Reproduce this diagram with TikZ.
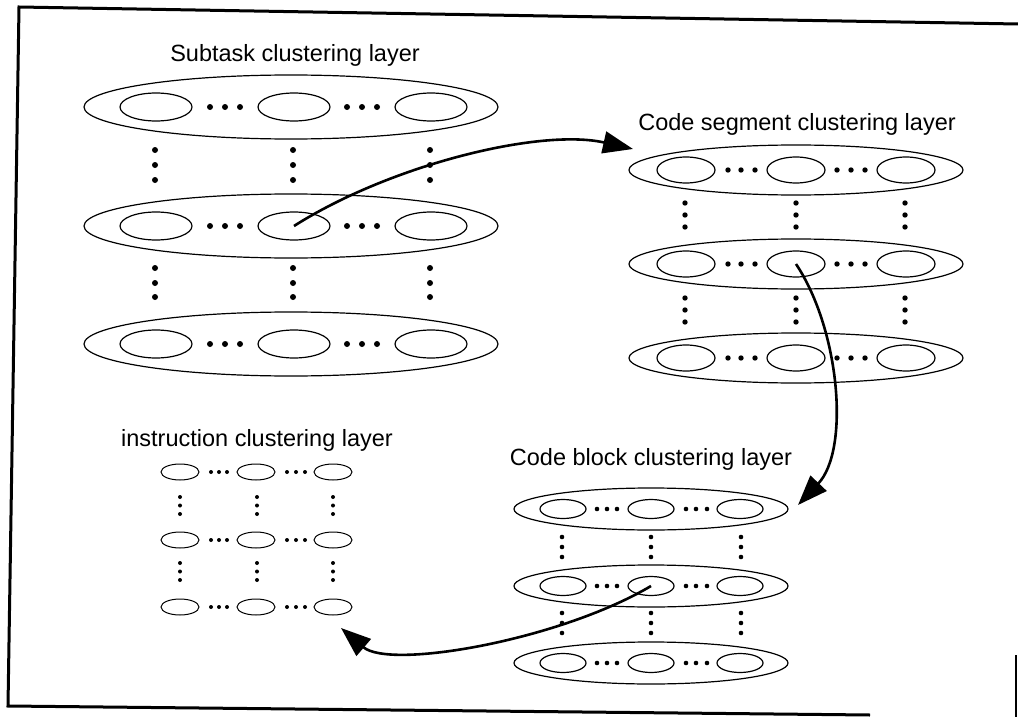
\documentclass[tikz,border=0pt]{standalone}
\usepackage{fontspec}
\setmainfont{Liberation Sans}
\usetikzlibrary{shapes.geometric,arrows.meta}
\begin{document}
\begin{tikzpicture}[x=1pt,y=-1pt,
  ell/.style={draw, ellipse, inner sep=0pt, line width=1.2pt},
  lbl/.style={font=\fontsize{23.5}{28}\selectfont, anchor=base, inner sep=0pt},
  flow/.style={line width=2.6pt, -{Triangle[length=30pt,width=22pt]}},
  framel/.style={line width=3pt}]
\useasboundingbox (0,0) rectangle (1018,717);

% frame (scanned, slightly rotated)
\coordinate (f1) at (19,7);
\coordinate (f2) at (1018,24);
\coordinate (f3) at (8,706);
\coordinate (f4) at (870,715);
\coordinate (f5) at (1016,655);
\coordinate (f6) at (1016,717);
\draw[framel] (f2) -- (f1) -- (f3) -- (f4);
\draw[line width=2pt] (f5) -- (f6);

% ---------- Subtask clustering layer ----------
\node[lbl] (Lsub) at (295,62) {Subtask clustering layer};
\foreach \r/\y in {1/107,2/226,3/344} {
  \node[ell, minimum width=414pt, minimum height=64pt] (S\r) at (291,\y) {};
  \foreach \c/\x in {1/156,2/294,3/431}
    \node[ell, minimum width=72pt, minimum height=28pt] (S\r\c) at (\x,\y) {};
  \foreach \x in {210,225,240,347,362,377}
    \fill (\x,\y) circle[radius=3pt];
}
\foreach \x in {155,293,430}
  \foreach \y in {150,165,180,268,283,297}
    \fill (\x,\y) circle[radius=3pt];

% ---------- Code segment clustering layer ----------
\node[lbl] (Lseg) at (797,131) {Code segment clustering layer};
\foreach \r/\y in {1/170,2/264,3/358} {
  \node[ell, minimum width=334pt, minimum height=50pt] (C\r) at (796,\y) {};
  \foreach \c/\x in {1/686,2/796,3/906}
    \node[ell, minimum width=58pt, minimum height=26pt] (C\r\c) at (\x,\y) {};
  \foreach \x in {728,741,755,837,851,865}
    \fill (\x,\y) circle[radius=2.7pt];
}
\foreach \x in {685,796,905}
  \foreach \y in {203,215,227,298,310,322}
    \fill (\x,\y) circle[radius=2.7pt];

% ---------- Code block clustering layer ----------
\node[lbl] (Lblk) at (651,465) {Code block clustering layer};
\foreach \r/\y in {1/509,2/586,3/663} {
  \node[ell, minimum width=274pt, minimum height=42pt] (B\r) at (651,\y) {};
  \foreach \c/\x in {1/563,2/651,3/740}
    \node[ell, minimum width=46pt, minimum height=19pt] (B\r\c) at (\x,\y) {};
  \foreach \x in {597,607,617,686,696,707}
    \fill (\x,\y) circle[radius=2.3pt];
}
\foreach \x in {562,651,741}
  \foreach \y in {537,547,557,613,623,633}
    \fill (\x,\y) circle[radius=2.3pt];

% ---------- instruction clustering layer ----------
\node[lbl] (Lins) at (257,446) {instruction clustering layer};
\foreach \r/\y in {1/472,2/540,3/607} {
  \foreach \c/\x in {1/180,2/256,3/333}
    \node[ell, line width=1pt, minimum width=38pt, minimum height=16pt] (I\r\c) at (\x,\y) {};
  \foreach \x in {211,219,227,287,296,305}
    \fill (\x,\y) circle[radius=2pt];
}
\foreach \x in {180,257,333}
  \foreach \y in {497,505.5,514,563,571.5,580}
    \fill (\x,\y) circle[radius=2pt];

% ---------- connectors ----------
\coordinate (t1) at (633,149);
\coordinate (t2) at (798,505);
\coordinate (t3) at (341,628);
\draw[flow] (S22.center) .. controls (390,165) and (540,128) .. (t1);
\draw[flow] (C22.center) .. controls (840,330) and (850,450) .. (t2);
\draw[flow] (B22.center) .. controls (560,640) and (390,670) .. (t3);
\end{tikzpicture}
\end{document}
